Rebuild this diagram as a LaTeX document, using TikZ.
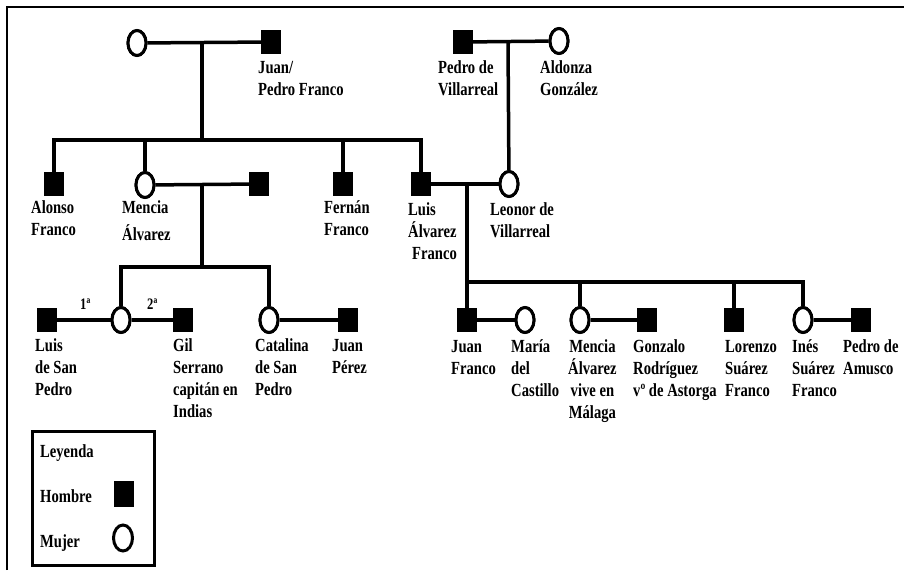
\documentclass[tikz,border=0pt]{standalone}
\usepackage{fontspec}
\setmainfont{Liberation Serif}[FakeStretch=0.79]
\usetikzlibrary{shapes.geometric}
\newcommand\lblsize{\fontsize{18.5}{22}\selectfont\bfseries}
\newcommand\ordsize{\fontsize{16}{18}\selectfont\bfseries}
\newcommand\ml[1]{\begin{tabular}[t]{@{}l@{}}#1\end{tabular}}
\newcommand\mc[1]{\begin{tabular}[t]{@{}c@{}}#1\end{tabular}}
\tikzset{
  male/.style={rectangle, fill=black, minimum width=20pt, minimum height=24pt, inner sep=0pt},
  female/.style={ellipse, draw=black, line width=3pt, fill=white, minimum width=18pt, minimum height=25pt, inner sep=0pt},
  lbl/.style={anchor=base west, inner sep=0pt, font=\lblsize},
  ord/.style={anchor=base west, inner sep=0pt, font=\ordsize},
  link/.style={line width=3.5pt},
  framestyle/.style={line width=2pt},
  legendbox/.style={draw=black, line width=3pt, minimum width=122pt, minimum height=134pt, inner sep=0pt}
}
\begin{document}
\begin{tikzpicture}[x=1pt,y=-1pt]
\useasboundingbox (0,0) rectangle (904,570);
% frame
\draw[framestyle] (7,570) -- (7,7) -- (904,7);

% generation 1
\node[female] (gm) at (137,43) {};
\node[male] (gf) at (271,42) {};
\node[male] (pv) at (463,42) {};
\node[female] (ald) at (559,41) {};
\coordinate (m1) at (202,42);
\coordinate (m2) at (508,42);

% generation 2
\node[male] (alonso) at (54,184) {};
\node[female] (mencia) at (145,185) {};
\node[male] (mhus) at (259,184) {};
\node[male] (fernan) at (343,184) {};
\node[male] (luis) at (421,184) {};
\node[female] (leonor) at (509,184) {};
\coordinate (b1) at (202,140);
\coordinate (bL) at (54,140);
\coordinate (bR) at (421,140);
\coordinate (m3) at (202,184);
\coordinate (m4) at (467,184);

% generation 3 left
\node[male] (lsp) at (47,320) {};
\node[female] (hija) at (121,320) {};
\node[male] (gil) at (183,320) {};
\node[female] (cat) at (269,320) {};
\node[male] (jp) at (348,320) {};
\coordinate (c1) at (202,267);
\coordinate (cL) at (121,267);
\coordinate (cR) at (269,267);

% generation 3 right
\node[male] (jf) at (467,320) {};
\node[female] (maria) at (525,320) {};
\node[female] (mencia2) at (580,320) {};
\node[male] (gonz) at (647,320) {};
\node[male] (lor) at (734,320) {};
\node[female] (ines) at (803,320) {};
\node[male] (pa) at (861,320) {};
\coordinate (d1) at (467,282);
\coordinate (dR) at (803,282);

% connectors
\draw[link] (gm) -- (gf);
\draw[link] (m1) -- (b1);
\draw[link] (alonso) -- (bL) -- (bR) -- (luis);
\draw[link] (mencia) -- (mencia|-bL);
\draw[link] (fernan) -- (fernan|-bL);
\draw[link] (pv) -- (ald);
\draw[link] (m2) -- (leonor);
\draw[link] (mencia) -- (mhus);
\draw[link] (m3) -- (c1);
\draw[link] (hija) -- (cL) -- (cR) -- (cat);
\draw[link] (lsp) -- (hija);
\draw[link] (hija) -- (gil);
\draw[link] (cat) -- (jp);
\draw[link] (luis) -- (leonor);
\draw[link] (m4) -- (d1);
\draw[link] (jf) -- (d1) -- (dR) -- (ines);
\draw[link] (mencia2) -- (mencia2|-d1);
\draw[link] (lor) -- (lor|-d1);
\draw[link] (jf) -- (maria);
\draw[link] (mencia2) -- (gonz);
\draw[link] (ines) -- (pa);

% redraw symbols on top
\node[female] at (gm) {};
\node[female] at (ald) {};
\node[female] at (mencia) {};
\node[female] at (leonor) {};
\node[female] at (hija) {};
\node[female] at (cat) {};
\node[female] at (maria) {};
\node[female] at (mencia2) {};
\node[female] at (ines) {};

% labels
\node[lbl] (tgf) at (258,73) {\ml{Juan/\\Pedro Franco}};
\node[lbl] (tpv) at (438,73) {\ml{Pedro de\\Villarreal}};
\node[lbl] (tald) at (540,73) {\ml{Aldonza\\González}};
\node[lbl] (talonso) at (31,213) {\ml{Alonso\\Franco}};
\node[lbl] (tmencia) at (122,213) {\ml{Mencia\\[5pt]Álvarez}};
\node[lbl] (tfernan) at (324,213) {\ml{Fernán\\Franco}};
\node[lbl] (tluis) at (408,215) {\ml{Luis\\Álvarez\\\hspace{4pt}Franco}};
\node[lbl] (tleonor) at (490,215) {\ml{Leonor de\\Villarreal}};

\node[ord] (o1) at (80,309) {1ª};
\node[ord] (o2) at (147,309) {2ª};

\node[lbl] (tlsp) at (35,351) {\ml{Luis\\de San\\Pedro}};
\node[lbl] (tgil) at (173,351) {\ml{Gil\\Serrano\\capitán en\\Indias}};
\node[lbl] (tcat) at (255,351) {\ml{Catalina\\de San\\Pedro}};
\node[lbl] (tjp) at (332,351) {\ml{Juan\\Pérez}};

\node[lbl] (tjf) at (451,352) {\ml{Juan\\Franco}};
\node[lbl] (tmaria) at (511,352) {\ml{María\\del\\Castillo}};
\node[lbl] (tmencia2) at (568,352) {\mc{Mencia\\Álvarez\\vive en\\Málaga}};
\node[lbl] (tgonz) at (633,352) {\ml{Gonzalo\\Rodríguez\\vº de Astorga}};
\node[lbl] (tlor) at (725,352) {\ml{Lorenzo\\Suárez\\Franco}};
\node[lbl] (tines) at (792,352) {\ml{Inés\\Suárez\\Franco}};
\node[lbl] (tpa) at (843,352) {\ml{Pedro de\\Amusco}};

% legend
\node[legendbox] (legend) at (93,498) {};
\node[lbl] (tley) at (40,457) {Leyenda};
\node[lbl] (thom) at (40,502) {Hombre};
\node[lbl] (tmuj) at (40,547) {Mujer};
\node[male, minimum height=26pt] (lmale) at (124,494) {};
\node[female, minimum width=19pt, minimum height=26pt] (lfem) at (123,538) {};
\end{tikzpicture}
\end{document}
